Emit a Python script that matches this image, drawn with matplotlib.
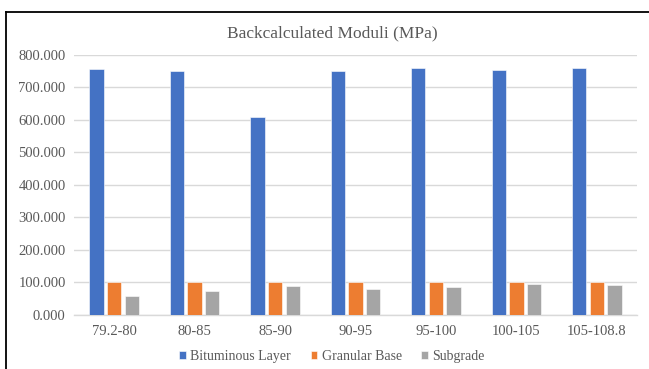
import matplotlib
matplotlib.use("Agg")
import matplotlib.pyplot as plt
import numpy as np
from matplotlib.lines import Line2D

# Chart data
categories = ["79.2-80", "80-85", "85-90", "90-95", "95-100", "100-105", "105-108.8"]
bituminous = [755, 751, 607, 749, 758, 754, 758]
granular = [102, 102, 102, 100, 100, 100, 100]
subgrade = [59, 75, 90, 80, 86, 96, 93]
series_names = ["Bituminous Layer", "Granular Base", "Subgrade"]
yticks = [0, 100, 200, 300, 400, 500, 600, 700, 800]

COLORS = ["#4472C4", "#ED7D31", "#A5A5A5"]
TEXT = "#595959"
GRID = "#D9D9D9"
plt.rcParams["font.family"] = ["Liberation Serif", "DejaVu Serif"]

fig = plt.figure(figsize=(6.49, 3.69), dpi=100)
ax = fig.add_axes([74 / 649, 1 - 315 / 369, (637 - 74) / 649, (315 - 54.7) / 369])

x = np.arange(len(categories))
step, width = 0.22, 0.178
for i, (vals, name) in enumerate(zip([bituminous, granular, subgrade], series_names)):
    ax.bar(x + (i - 1) * step, vals, width, color=COLORS[i], label=name,
           edgecolor="white", linewidth=0.4, zorder=3)

ax.set_xlim(-0.5, len(categories) - 0.5)
ax.set_ylim(0, 800)
ax.set_yticks(yticks)
ax.set_yticklabels([f"{v:.3f}" for v in yticks])
ax.set_xticks(x)
ax.set_xticklabels(categories)
ax.tick_params(length=0, labelsize=10.5, colors=TEXT, pad=6)
ax.tick_params(axis="x", pad=7)
ax.grid(axis="y", color=GRID, linewidth=1, zorder=0)
for s in ["top", "right", "left"]:
    ax.spines[s].set_visible(False)
ax.spines["bottom"].set_color(GRID)
ax.spines["bottom"].set_linewidth(1)

fig.text(332 / 649, 1 - 33 / 369, "Backcalculated Moduli (MPa)", ha="center", va="center",
         fontsize=12.5, color=TEXT)

leg = fig.legend(loc="center", bbox_to_anchor=(332 / 649, 1 - 356.5 / 369), ncol=3,
                 frameon=False, prop={"family": "Liberation Serif", "size": 10},
                 handlelength=0.5, handleheight=0.5,
                 handletextpad=0.3, columnspacing=1.4)
for t in leg.get_texts():
    t.set_color(TEXT)

# outer frame (left and top edges visible in the reference)
fig.add_artist(Line2D([5.5 / 649, 5.5 / 649], [0, 1 - 11.5 / 369], color="black", lw=1.3))
fig.add_artist(Line2D([5.5 / 649, 1], [1 - 11.5 / 369, 1 - 11.5 / 369], color="black", lw=1.3))

fig.savefig("out.png", dpi=100)
